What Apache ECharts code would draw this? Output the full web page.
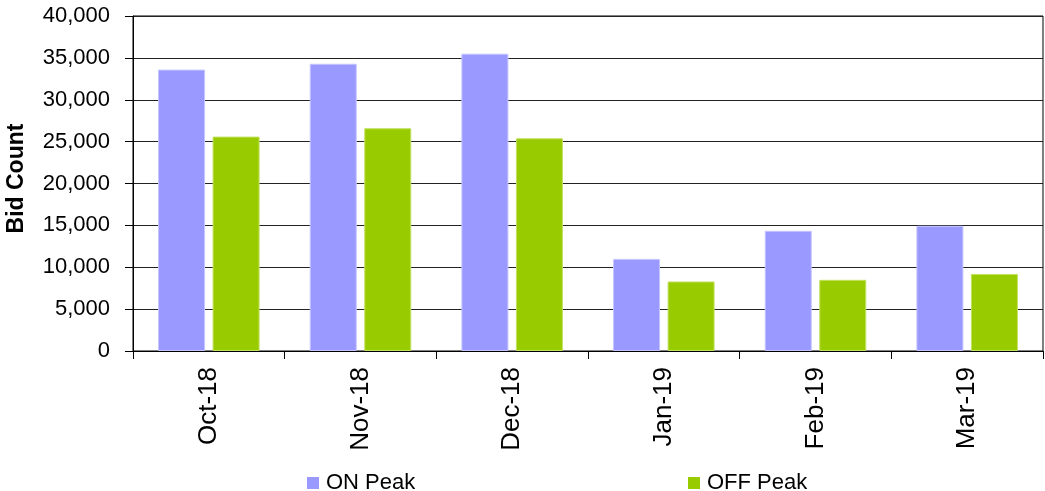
<!DOCTYPE html>
<html>
<head>
<meta charset="utf-8">
<script src="https://cdn.jsdelivr.net/npm/echarts@6/dist/echarts.min.js"></script>
<style>
html,body{margin:0;padding:0;background:#fff;}
#chart{width:1045px;height:491px;}
</style>
</head>
<body>
<div id="chart"></div>
<script>
const categories = ['Oct-18', 'Nov-18', 'Dec-18', 'Jan-19', 'Feb-19', 'Mar-19'];
const onPeak = [33600, 34300, 35500, 11000, 14350, 14950];
const offPeak = [25600, 26600, 25400, 8300, 8500, 9200];
const yTicks = { min: 0, max: 40000, interval: 5000 };

const font = '"Liberation Sans", Arial, sans-serif';
const chart = echarts.init(document.getElementById('chart'), null, { renderer: 'canvas' });
chart.setOption({
  animation: false,
  backgroundColor: '#fff',
  grid: {
    left: 133, right: 2, top: 16, bottom: 140,
    containLabel: false, outerBoundsMode: 'none',
    show: true, borderColor: '#000', borderWidth: 1, backgroundColor: 'transparent'
  },
  legend: [
    {
      data: ['ON Peak'], left: 302, top: 467,
      itemWidth: 12, itemHeight: 12, icon: 'rect',
      itemStyle: { borderWidth: 0 },
      textStyle: { fontFamily: font, fontSize: 22, color: '#000', padding: [0, 0, 0, 2] }
    },
    {
      data: ['OFF Peak'], left: 683, top: 467,
      itemWidth: 12, itemHeight: 12, icon: 'rect',
      itemStyle: { borderWidth: 0 },
      textStyle: { fontFamily: font, fontSize: 22, color: '#000', padding: [0, 0, 0, 2] }
    }
  ],
  xAxis: {
    type: 'category',
    data: categories,
    boundaryGap: true,
    axisLine: { show: true, lineStyle: { color: '#000', width: 1 } },
    axisTick: { show: true, length: 8, lineStyle: { color: '#000' } },
    axisLabel: {
      rotate: 90, margin: 16, fontFamily: font, fontSize: 26, color: '#000'
    },
    splitLine: { show: false }
  },
  yAxis: {
    type: 'value',
    min: yTicks.min, max: yTicks.max, interval: yTicks.interval,
    name: 'Bid Count',
    nameLocation: 'middle',
    nameRotate: 90,
    nameGap: 105,
    nameTextStyle: { fontFamily: font, fontSize: 23, fontWeight: 'bold', color: '#000', padding: [0, 0, 0, 10] },
    axisLine: { show: true, lineStyle: { color: '#000', width: 1 } },
    axisTick: { show: true, length: 8, lineStyle: { color: '#000' } },
    axisLabel: {
      margin: 23, fontFamily: font, fontSize: 22, color: '#000',
      formatter: v => v.toLocaleString('en-US')
    },
    splitLine: { show: true, lineStyle: { color: '#222', width: 1 } }
  },
  series: [
    {
      name: 'ON Peak', type: 'bar', data: onPeak,
      barWidth: 47, barGap: '16%',
      itemStyle: { color: '#9999FF', borderColor: '#c4c4ff', borderWidth: 1 }
    },
    {
      name: 'OFF Peak', type: 'bar', data: offPeak,
      barWidth: 47, barGap: '16%',
      itemStyle: { color: '#99CC00', borderColor: '#c2e060', borderWidth: 1 }
    }
  ]
});
</script>
</body>
</html>
